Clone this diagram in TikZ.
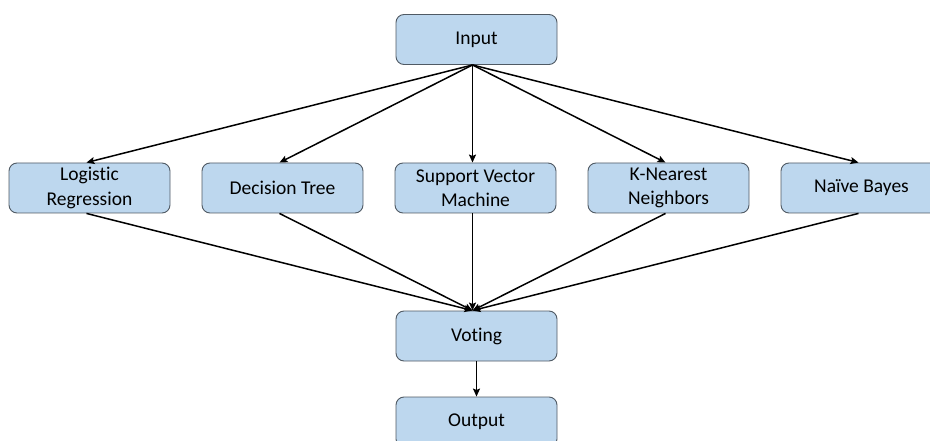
\documentclass[tikz,border=0pt]{standalone}
\usepackage{fontspec}
\setmainfont[Ligatures=NoCommon]{Carlito}
\usetikzlibrary{arrows.meta}
\definecolor{boxfill}{HTML}{BDD7EE}
\definecolor{boxline}{HTML}{505A64}
\begin{document}
\begin{tikzpicture}[x=1pt,y=-1pt,
  model/.style={draw=boxline, line width=0.9pt, fill=boxfill, rounded corners=8pt,
    minimum width=161pt, minimum height=50pt, inner sep=0pt, align=center,
    font=\fontsize{19.5}{24.5}\selectfont},
  flow/.style={line width=1.5pt, -{Stealth[length=8pt,width=7pt,inset=1.5pt]}}]
  \useasboundingbox (0,0) rectangle (930,441);
  \clip (0,0) rectangle (930,441);

  % input and aggregation stages
  \node[model] (in)   at (476.5,39.5) {Input};
  \node[model] (vote) at (476.5,336)  {Voting};
  \node[model] (out)  at (476.5,422)  {Output};

  % base classifiers
  \node[model] (lr)  at (89.5,188)  {Logistic\\Regression};
  \node[model] (dt)  at (282.5,188) {Decision Tree};
  \node[model] (svm) at (475.5,188) {Support Vector\\Machine};
  \node[model] (knn) at (668.5,188) {K-Nearest\\Neighbors};
  \node[model] (nb)  at (861.5,188) {Naïve Bayes};

  \coordinate (src) at ([xshift=-4pt]in.south);
  \coordinate (dst) at ([xshift=-4pt]vote.north);

  \foreach \m in {lr,dt,svm,knn,nb}{
    \draw[flow] (src) -- ([xshift=-3pt]\m.north);
    \draw[flow] ([xshift=-3pt]\m.south) -- (dst);
  }
  \draw[flow] (vote.south) -- (out.north);
\end{tikzpicture}
\end{document}
